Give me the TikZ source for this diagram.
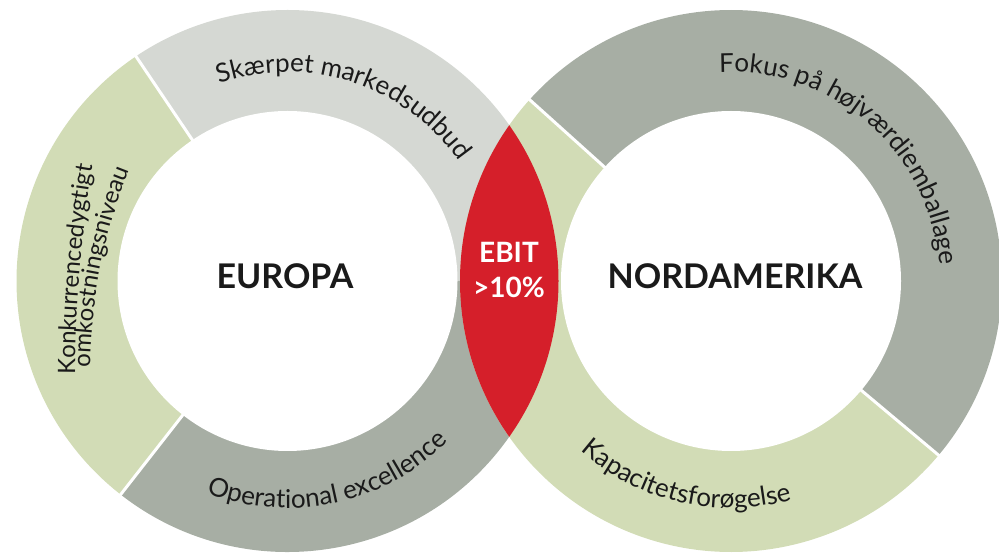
\documentclass[tikz,border=0pt]{standalone}
\usepackage{fontspec}
\setmainfont{Lato}
\usetikzlibrary{decorations.text}
\definecolor{ringgreen}{HTML}{D2DCB6}
\definecolor{ringlight}{HTML}{D5D8D3}
\definecolor{ringdark}{HTML}{A7AEA4}
\definecolor{ebitred}{HTML}{D51F2A}
\definecolor{txt}{HTML}{1A1A1A}
\newcommand{\arcfont}{\fontsize{26}{26}\selectfont}
\newcommand{\linefont}{\fontsize{24}{24}\selectfont}
\begin{document}
\begin{tikzpicture}[x=1pt,y=1pt,
  sep/.style={white,line width=3pt},
  bigtxt/.style={font=\fontsize{34}{34}\selectfont\bfseries,text=txt,inner sep=0pt},
  ebitstyle/.style={font=\fontsize{28}{35}\selectfont\bfseries,text=white,align=center,inner sep=0pt},
  arctext/.style={decorate,decoration={text along path,text align=center,text color=txt,text={#1}}}]
\useasboundingbox (0,0) rectangle (999,552);
\coordinate (L) at (287.5,271);
\coordinate (R) at (731,271);
\coordinate (k1) at (1375,172);
\coordinate (k2) at (640,177);
% left ring
\fill[ringlight] (L) -- ([shift={(0:271)}]L) arc[start angle=0,end angle=124,radius=271] -- cycle;
\fill[ringgreen] (L) -- ([shift={(124:271)}]L) arc[start angle=124,end angle=232,radius=271] -- cycle;
\fill[ringdark] (L) -- ([shift={(232:271)}]L) arc[start angle=232,end angle=360,radius=271] -- cycle;
% right ring
\fill[ringdark] (R) -- ([shift={(-40:271)}]R) arc[start angle=-40,end angle=138,radius=271] -- cycle;
\fill[ringgreen] (R) -- ([shift={(138:271)}]R) arc[start angle=138,end angle=320,radius=271] -- cycle;
% lens
\begin{scope}
  \clip (L) circle[radius=271];
  \fill[ebitred] (R) circle[radius=271];
\end{scope}
% separators
\draw[sep] ([shift={(124:160)}]L) -- ([shift={(124:280)}]L);
\draw[sep] ([shift={(232:160)}]L) -- ([shift={(232:280)}]L);
\draw[sep] ([shift={(138:160)}]R) -- ([shift={(138:280)}]R);
\draw[sep] ([shift={(-40:160)}]R) -- ([shift={(-40:280)}]R);
% inner disks
\fill[white] (L) circle[radius=170];
\fill[white] (R) circle[radius=170];
% labels
\node[bigtxt] (eu) at (285,276) {EUROPA};
\node[bigtxt] (na) at (735,276) {NORDAMERIKA};
\node[ebitstyle] (ebit) at (509,281.5) {EBIT\\>10\%};
\path[arctext={|\arcfont|Skærpet markedsudbud}] ([shift={(122:209)}]L) arc[start angle=122,end angle=22,radius=209];
\path[arctext={|\arcfont|Fokus på højværdiemballage}] ([shift={(103.7:209)}]R) arc[start angle=103.7,end angle=-6.3,radius=209];
\path[arctext={|\arcfont|Operational excellence}] ([shift={(232:227)}]L) arc[start angle=232,end angle=332,radius=227];
\path[arctext={|\arcfont|Kapacitetsforøgelse}] ([shift={(207:227)}]R) arc[start angle=207,end angle=307,radius=227];
\path[arctext={|\linefont|Konkurrencedygtigt}] ([shift={(180.88:1300)}]k1) arc[start angle=180.88,end angle=169.36,radius=1300];
\path[arctext={|\linefont|omkostningsniveau}] ([shift={(182.6:550)}]k2) arc[start angle=182.6,end angle=154.7,radius=550];
\end{tikzpicture}
\end{document}
